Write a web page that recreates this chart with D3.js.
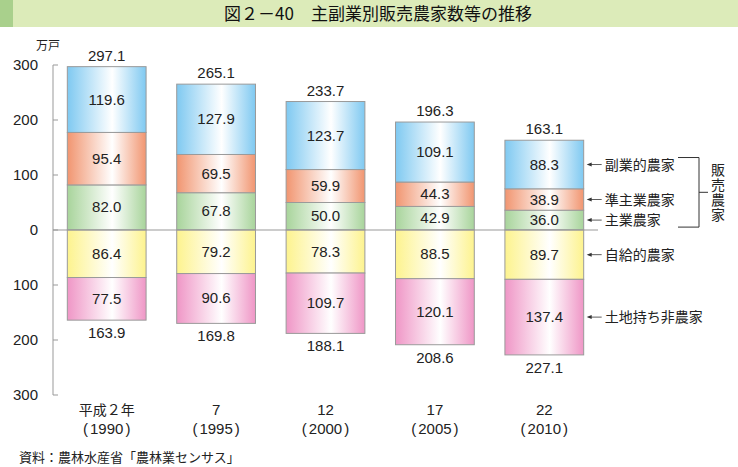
<!DOCTYPE html>
<html>
<head>
<meta charset="utf-8">
<script src="https://d3js.org/d3.v7.min.js"></script>
<style>
  body { margin: 0; background: #fff; }
  text { font-family: "Liberation Sans", Arial, sans-serif; fill: #222; }
  .jp { font-family: "Noto Sans CJK JP", sans-serif; }
</style>
</head>
<body>
<svg width="738" height="467"></svg>
<script>

// data
var years = ["平成２年", "7", "12", "17", "22"];
var yearsAD = ["1990", "1995", "2000", "2005", "2010"];
var shugyo = [82.0, 67.8, 50.0, 42.9, 36.0];       // 主業農家
var junshugyo = [95.4, 69.5, 59.9, 44.3, 38.9];    // 準主業農家
var fukugyo = [119.6, 127.9, 123.7, 109.1, 88.3];  // 副業的農家
var jikyu = [86.4, 79.2, 78.3, 88.5, 89.7];        // 自給的農家
var tochimochi = [77.5, 90.6, 109.7, 120.1, 137.4]; // 土地持ち非農家
var totalsUp = ["297.1", "265.1", "233.7", "196.3", "163.1"];
var totalsDown = ["163.9", "169.8", "188.1", "208.6", "227.1"];
var yTicks = [300, 200, 100, 0, -100, -200, -300];

var svg = d3.select("svg");

// title band
svg.append("rect").attr("x", 0).attr("y", 0).attr("width", 738).attr("height", 27).attr("fill", "#dcebb9");
svg.append("rect").attr("x", 0).attr("y", 0).attr("width", 13).attr("height", 27).attr("fill", "#a9d08c");
svg.append("text").attr("class", "jp")
    .attr("x", 378).attr("y", 20).attr("text-anchor", "middle")
    .style("font-size", "17px").style("fill", "#111")
    .text("図２－40　主副業別販売農家数等の推移");

var x = d3.scaleBand()
    .domain(d3.range(years.length))
    .range([52, 599])
    .paddingInner(0.28)
    .paddingOuter(0.14);

var y = d3.scaleLinear().domain([-300, 300]).range([395, 65]);

// gradients
var defs = svg.append("defs");
var palette = {
  blue: "#7fc9f1", orange: "#f19570", green: "#a8d49b", yellow: "#fdf38e", pink: "#ef96c6"
};
Object.keys(palette).forEach(function(k) {
  var g = defs.append("linearGradient").attr("id", "g-" + k)
      .attr("x1", "0%").attr("x2", "100%").attr("y1", "0%").attr("y2", "0%");
  g.append("stop").attr("offset", "0%").attr("stop-color", palette[k]);
  g.append("stop").attr("offset", "57%").attr("stop-color", "#ffffff");
  g.append("stop").attr("offset", "100%").attr("stop-color", palette[k]);
});

// axis
var axisG = svg.append("g");
axisG.append("line").attr("x1", 53).attr("x2", 53).attr("y1", y(300)).attr("y2", y(-300))
    .attr("stroke", "#999").attr("stroke-width", 1);
axisG.selectAll(".tick").data(yTicks).enter().append("line")
    .attr("x1", 53).attr("x2", 58).attr("y1", function(d) { return y(d); }).attr("y2", function(d) { return y(d); })
    .attr("stroke", "#999");
axisG.selectAll(".lbl").data(yTicks).enter().append("text")
    .attr("x", 38).attr("y", function(d) { return y(d) + 5; })
    .attr("text-anchor", "end").style("font-size", "15px")
    .text(function(d) { return Math.abs(d); });
svg.append("text").attr("class", "jp").attr("x", 48).attr("y", 50).attr("text-anchor", "middle")
    .style("font-size", "12px").text("万戸");

// stacked segments
var segs = [];
years.forEach(function(yr, i) {
  var a = shugyo[i], b = junshugyo[i], c = fukugyo[i], d = jikyu[i], e = tochimochi[i];
  segs.push({ i: i, y0: 0, y1: a, v: a, c: "green" });
  segs.push({ i: i, y0: a, y1: a + b, v: b, c: "orange" });
  segs.push({ i: i, y0: a + b, y1: a + b + c, v: c, c: "blue" });
  segs.push({ i: i, y0: -d, y1: 0, v: d, c: "yellow" });
  segs.push({ i: i, y0: -d - e, y1: -d, v: e, c: "pink" });
});

svg.selectAll(".seg").data(segs).enter().append("rect")
    .attr("x", function(d) { return x(d.i); })
    .attr("width", x.bandwidth())
    .attr("y", function(d) { return y(d.y1); })
    .attr("height", function(d) { return y(d.y0) - y(d.y1); })
    .attr("fill", function(d) { return "url(#g-" + d.c + ")"; })
    .attr("stroke", "#9a9a9a").attr("stroke-width", 1);

// zero line
svg.append("line").attr("x1", 53).attr("x2", 598).attr("y1", y(0)).attr("y2", y(0))
    .attr("stroke", "#999");

svg.selectAll(".val").data(segs).enter().append("text")
    .attr("x", function(d) { return x(d.i) + x.bandwidth() / 2; })
    .attr("y", function(d) { return y((d.y0 + d.y1) / 2) + 5; })
    .attr("text-anchor", "middle").style("font-size", "15px")
    .text(function(d) { return d.v.toFixed(1); });

// totals
svg.selectAll(".tup").data(totalsUp).enter().append("text")
    .attr("x", function(d, i) { return x(i) + x.bandwidth() / 2; })
    .attr("y", function(d, i) { return y(shugyo[i] + junshugyo[i] + fukugyo[i]) - 6; })
    .attr("text-anchor", "middle").style("font-size", "15px")
    .text(function(d) { return d; });
svg.selectAll(".tdn").data(totalsDown).enter().append("text")
    .attr("x", function(d, i) { return x(i) + x.bandwidth() / 2; })
    .attr("y", function(d, i) { return y(-jikyu[i] - tochimochi[i]) + 18; })
    .attr("text-anchor", "middle").style("font-size", "15px")
    .text(function(d) { return d; });

// x labels
svg.selectAll(".xl1").data(years).enter().append("text")
    .attr("class", function(d, i) { return i === 0 ? "jp" : null; })
    .attr("x", function(d, i) { return x(i) + x.bandwidth() / 2; })
    .attr("y", 415).attr("text-anchor", "middle")
    .style("font-size", function(d, i) { return i === 0 ? "14px" : "15px"; })
    .text(function(d) { return d; });
var xl2 = svg.selectAll(".xl2").data(yearsAD).enter().append("text")
    .attr("x", function(d, i) { return x(i) + x.bandwidth() / 2; })
    .attr("y", 433.5).attr("text-anchor", "middle").style("font-size", "15px");
xl2.append("tspan").text("(");
xl2.append("tspan").attr("dx", 2).text(function(d) { return d; });
xl2.append("tspan").attr("dx", 2).text(")");

// legend annotations on the last bar
var last = years.length - 1;
var edge = x(last) + x.bandwidth();
var notes = [
  { t: "副業的農家", v: shugyo[last] + junshugyo[last] + fukugyo[last] / 2 },
  { t: "準主業農家", v: shugyo[last] + junshugyo[last] / 2 },
  { t: "主業農家", v: shugyo[last] / 2 },
  { t: "自給的農家", v: -jikyu[last] / 2 },
  { t: "土地持ち非農家", v: -jikyu[last] - tochimochi[last] / 2 }
];
var nG = svg.selectAll(".note").data(notes).enter().append("g");
nG.append("line").attr("x1", edge + 5).attr("x2", edge + 18)
    .attr("y1", function(d) { return y(d.v); }).attr("y2", function(d) { return y(d.v); })
    .attr("stroke", "#333").attr("stroke-width", 0.8);
nG.append("path")
    .attr("d", function(d) { var yy = y(d.v); return "M" + (edge + 3) + "," + yy + "L" + (edge + 8) + "," + (yy - 2) + "L" + (edge + 8) + "," + (yy + 2) + "Z"; })
    .attr("fill", "#333");
nG.append("text").attr("class", "jp")
    .attr("x", edge + 21).attr("y", function(d) { return y(d.v) + 5; })
    .style("font-size", "14px").text(function(d) { return d.t; });

// bracket for 販売農家
var bTop = y(notes[0].v) - 7, bBot = y(notes[2].v) + 7, bMid = (bTop + bBot) / 2;
svg.append("path")
    .attr("d", "M678," + bTop + "H699V" + bBot + "H678M699," + bMid + "H708")
    .attr("fill", "none").attr("stroke", "#333").attr("stroke-width", 1);
svg.append("text").attr("class", "jp")
    .attr("x", 718).attr("y", bMid).attr("text-anchor", "middle")
    .style("writing-mode", "vertical-rl").style("font-size", "14px")
    .style("letter-spacing", "1px")
    .text("販売農家");

// source
svg.append("text").attr("class", "jp").attr("x", 19).attr("y", 462)
    .style("font-size", "13px").text("資料：農林水産省「農林業センサス」");

</script>
</body>
</html>
